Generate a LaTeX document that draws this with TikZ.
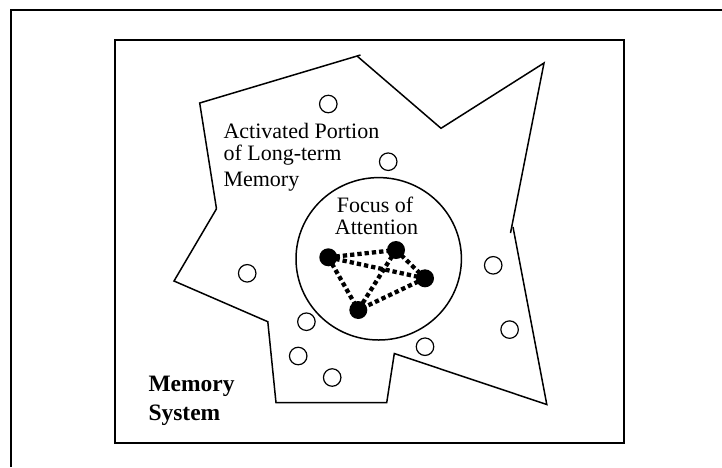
\documentclass[tikz,border=0pt]{standalone}
\usepackage{fontspec}
\setmainfont{Liberation Serif}
\usetikzlibrary{shapes.geometric}
\begin{document}
\begin{tikzpicture}[x=1pt,y=-1pt,
  frame/.style={line width=2pt},
  outline/.style={line width=1.5pt, line join=miter},
  item/.style={circle, draw, line width=1.2pt, minimum size=17.5pt, inner sep=0pt},
  dot/.style={circle, fill=black, minimum size=18pt, inner sep=0pt},
  link/.style={line width=4.3pt, dash pattern=on 4.3pt off 3pt},
  lbl/.style={font=\fontsize{22}{22}\selectfont, inner sep=0pt},
  boldlbl/.style={font=\fontsize{23.5}{23.5}\selectfont\bfseries, inner sep=0pt}]
\useasboundingbox (0,0) rectangle (722,467);
% outer frame (top and left edges only)
\draw[frame] (11,467) -- (11,9.5) -- (722,9.5);
% inner rectangle
\draw[frame] (115,40) rectangle (623.5,443.3);
% activated region outline
\coordinate (p1) at (199.7,103);
\coordinate (p2) at (360.5,55);
\coordinate (p2b) at (357,56);
\coordinate (p3) at (441,128.3);
\coordinate (p4) at (544,63);
\coordinate (p5) at (510.5,233);
\coordinate (p5b) at (513,227);
\coordinate (p6) at (546.8,404.5);
\coordinate (p7) at (394.3,353.5);
\coordinate (p8) at (386.7,402.7);
\coordinate (p9) at (276,402.7);
\coordinate (p10) at (267.8,321.7);
\coordinate (p11) at (174,281);
\coordinate (p12) at (216.5,208.8);
\draw[outline] (p12) -- (p1) -- (p2);
\draw[outline] (p2b) -- (p3) -- (p4) -- (p5);
\draw[outline] (p5b) -- (p6) -- (p7) -- (p8) -- (p9) -- (p10) -- (p11) -- (p12);
% focus of attention
\node[draw, line width=1.5pt, ellipse, minimum width=165.4pt, minimum height=162.4pt, inner sep=0pt] (focus) at (378.7,258.8) {};
% texts
\node[lbl, anchor=base west] (t1) at (223.3,138) {Activated Portion};
\node[lbl, anchor=base west] (t2) at (223.3,160) {of Long-term};
\node[lbl, anchor=base west] (t3) at (223.3,186.5) {Memory};
\node[lbl, anchor=base] (f1) at (375,212.3) {Focus of};
\node[lbl, anchor=base] (f2) at (376.5,234) {Attention};
\node[boldlbl, anchor=base west] (m1) at (148.3,391.7) {Memory};
\node[boldlbl, anchor=base west] (m2) at (148.3,420) {System};
% inactive items
\node[item] (c1) at (328.3,104) {};
\node[item] (c2) at (388.2,161.7) {};
\node[item] (c3) at (247.2,273.3) {};
\node[item] (c4) at (493.2,265.3) {};
\node[item] (c5) at (306.4,321.7) {};
\node[item] (c6) at (509.6,329.6) {};
\node[item] (c7) at (425,346.7) {};
\node[item] (c8) at (298.2,356) {};
\node[item] (c9) at (332.2,377.5) {};
% active items
\coordinate (a) at (328.3,257.3);
\coordinate (b) at (396,250);
\coordinate (c) at (425,278.3);
\coordinate (d) at (358.3,310);
\draw[link] (a) -- (b);
\draw[link] (a) -- (c);
\draw[link] (a) -- (d);
\draw[link] (b) -- (c);
\draw[link] (b) -- (d);
\draw[link] (c) -- (d);
\node[dot] (da) at (a) {};
\node[dot] (db) at (b) {};
\node[dot] (dc) at (c) {};
\node[dot] (dd) at (d) {};
\end{tikzpicture}
\end{document}
